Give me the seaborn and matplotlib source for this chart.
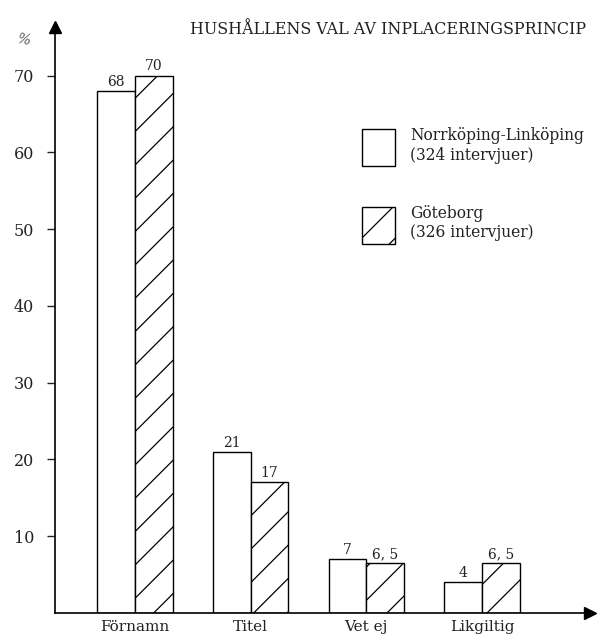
import pandas as pd
import matplotlib
matplotlib.use("Agg")
import matplotlib.pyplot as plt
import seaborn as sns

categories = ["Förnamn", "Titel", "Vet ej", "Likgiltig"]
groups = ["Norrköping-Linköping\n(324 intervjuer)", "Göteborg\n(326 intervjuer)"]
norrkoping = [68, 21, 7, 4]
goteborg = [70, 17, 6.5, 6.5]
norrkoping_labels = ["68", "21", "7", "4"]
goteborg_labels = ["70", "17", "6, 5", "6, 5"]
yticks = [10, 20, 30, 40, 50, 60, 70]
title = "HUSHÅLLENS VAL AV INPLACERINGSPRINCIP"

df = pd.DataFrame({
    "kategori": categories * 2,
    "grupp": [groups[0]] * 4 + [groups[1]] * 4,
    "procent": norrkoping + goteborg,
})

sns.set_theme(style="white")
plt.rcParams["font.family"] = ["DejaVu Serif"]
plt.rcParams["hatch.linewidth"] = 0.9
plt.rcParams["hatch.color"] = "black"

fig = plt.figure(figsize=(6, 6.35), dpi=100)
W, H = 600, 635
ax = fig.add_axes([55 / W, (H - 613) / H, (590 - 55) / W, (613 - 27) / H])

sns.barplot(data=df, x="kategori", y="procent", hue="grupp", order=categories,
            hue_order=groups, palette=["white", "white"], edgecolor="black",
            linewidth=1.0, width=0.652, legend=False, ax=ax)

for p in ax.containers[1]:
    p.set_hatch("/")

ax.bar_label(ax.containers[0], labels=norrkoping_labels, padding=1.5,
             fontsize=10, color="#222222")
ax.bar_label(ax.containers[1], labels=goteborg_labels, padding=1.5,
             fontsize=10, color="#222222")

ax.set_xlim(-0.69, (590 - 135) / 115.7)
ax.set_ylim(0, (613 - 27) / 7.678)
ax.set_yticks(yticks)
ax.tick_params(axis="y", direction="out", length=6, width=1.0, labelsize=11.5,
               left=True, pad=9, colors="#222222")
ax.tick_params(axis="x", length=0, labelsize=11, pad=5, colors="#222222")
ax.set_xlabel("")
ax.set_ylabel("")
for s in ["top", "right"]:
    ax.spines[s].set_visible(False)
for s in ["left", "bottom"]:
    ax.spines[s].set_linewidth(1.2)
    ax.spines[s].set_color("black")

# arrow heads on the axes
ax.plot(1, 0, ">", color="black", markersize=9, transform=ax.transAxes, clip_on=False)
ax.plot(0, 1, "^", color="black", markersize=9, transform=ax.transAxes, clip_on=False)

fig.text(24 / W, 1 - 40 / H, "%", fontsize=10, color="#555555", style="italic",
         ha="center", va="center", rotation=-10)
fig.text(190 / W, 1 - 29 / H, title, fontsize=11.4, color="#222222",
         ha="left", va="center")

handles = [ax.containers[0][0], ax.containers[1][0]]
ax.legend(handles=handles, labels=groups, loc="upper left",
          bbox_to_anchor=(362 / W, 1 - 127 / H), bbox_transform=fig.transFigure,
          frameon=False, fontsize=11.2, handlelength=2.1, handleheight=3.3,
          handletextpad=1.0, labelspacing=2.5, borderpad=0, borderaxespad=0,
          labelcolor="#222222")

fig.savefig("out.png", dpi=100)
